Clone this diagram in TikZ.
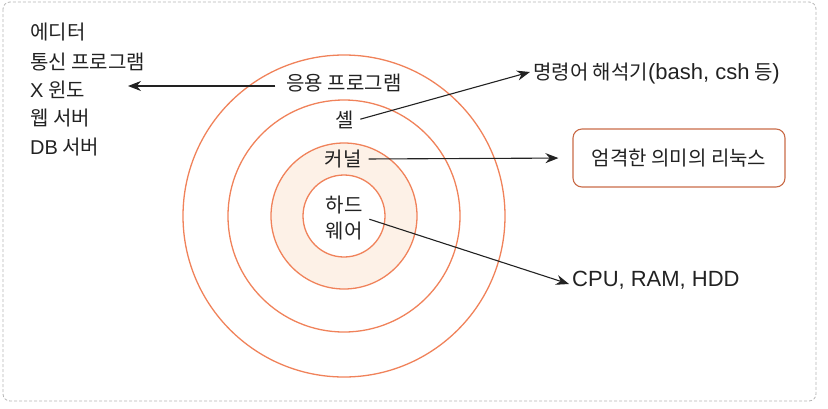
\documentclass[tikz,border=0pt]{standalone}
\usepackage{fontspec}
\usepackage{tikz}
\usepackage{xcolor}
\usetikzlibrary{arrows.meta,positioning}
\newfontfamily\krfont{Noto Sans CJK KR}
\newfontfamily\latfont{Liberation Sans}
\newcommand\biglat{\latfont\fontsize{22}{26}\selectfont}
\definecolor{Ring}{HTML}{F0825A}
\definecolor{SoftRing}{HTML}{FDF1E7}
\definecolor{BoxLine}{HTML}{C96B48}
\definecolor{Frame}{HTML}{B4B4B4}
\definecolor{Ink}{HTML}{222222}

\begin{document}
\begin{tikzpicture}[
  x=1pt,y=-1pt,
  txt/.style={inner sep=3pt,font=\krfont\fontsize{20}{26}\selectfont,text=Ink},
  ring/.style={draw=Ring,line width=1.3pt},
  arr/.style={draw=Ink,line width=1.1pt,-{Stealth[length=13pt,width=10pt]}},
  linuxbox/.style={txt,draw=BoxLine,line width=1.1pt,rounded corners=9pt,minimum width=212pt,minimum height=58pt}
]
\useasboundingbox (0,0) rectangle (828,408);
\draw[Frame,densely dashed,line width=0.8pt,rounded corners=7pt] (3,2) rectangle (816,401);
% rings
\coordinate (c) at (344,216);
\draw[ring] (c) circle (161);
\draw[ring] (c) circle (116);
\draw[ring,fill=SoftRing] (c) circle (73);
\draw[ring,fill=white] (c) circle (41);
% ring labels
\node[txt] (app) at (344,83) {응용 프로그램};
\node[txt] (shell) at (345,120) {셸};
\node[txt] (kernel) at (343,159) {커널};
\node[txt,align=center] (hw) at (344,218) {하드\\웨어};
% left list
\node[txt,anchor=west] (l1) at (27,32) {에디터};
\node[txt,anchor=west] (l2) at (27,62) {통신 프로그램};
\node[txt,anchor=west] (l3) at (27,90) {{\latfont X} 윈도};
\node[txt,anchor=west] (l4) at (27,118) {웹 서버};
\node[txt,anchor=west] (l5) at (27,147) {{\latfont DB} 서버};
\coordinate (apptip) at (128,86);
% right side
\node[txt,anchor=west] (cmd) at (530,74) {명령어 해석기{\biglat (bash, csh} 등{\biglat )}};
\node[linuxbox] (linux) at (679,158) {엄격한 의미의 리눅스};
\node[txt,anchor=west,font=\biglat] (hwlist) at (569,280) {CPU, RAM, HDD};
% arrows
\draw[arr,shorten <=8pt] (app.west |- apptip) -- (apptip);
\draw[arr,shorten <=3pt] (shell.east) -- ([yshift=2pt]cmd.west);
\draw[arr,shorten <=4pt,shorten >=14pt] (kernel.east) -- (linux.west);
\draw[arr,shorten <=4pt] (hw.east) -- ([yshift=-4pt]hwlist.west);
\end{tikzpicture}
\end{document}
